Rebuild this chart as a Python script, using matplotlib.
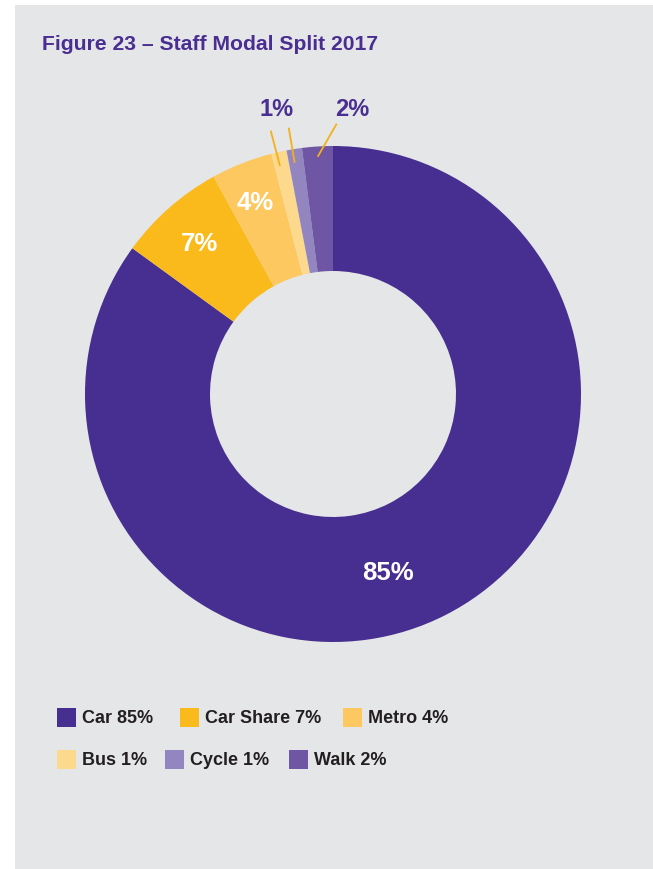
import matplotlib
matplotlib.use("Agg")
import matplotlib.pyplot as plt
from matplotlib.patches import Rectangle

# Staff modal split data
modes = ["Car", "Car Share", "Metro", "Bus", "Cycle", "Walk"]
shares = [85, 7, 4, 1, 1, 2]
colors = ["#472E91", "#FBBA1C", "#FDC85F", "#FDD98E", "#9285C0", "#6E56A4"]

W, H = 653, 870
fig = plt.figure(figsize=(W / 100, H / 100), dpi=100, facecolor="white")
ax = fig.add_axes([0, 0, 1, 1])

def Y(y):
    # pixel row measured from the top -> axis coordinate
    return H - y

purple = "#4A2E91"
font = "Liberation Sans"

# grey panel
ax.add_patch(Rectangle((15, Y(870)), W - 15, 870 - 6, facecolor="#E5E6E8",
                       edgecolor="none", zorder=0))

cx, cy, R, ring = 333, 395, 248, 125
wedges, _ = ax.pie(shares, colors=colors, startangle=90, counterclock=False,
                   center=(cx, Y(cy)), radius=R,
                   wedgeprops=dict(width=ring, edgecolor="none", linewidth=0))
for w in wedges:
    w.set_zorder(2)

ax.set_xlim(0, W)
ax.set_ylim(0, H)
ax.set_aspect("equal")
ax.axis("off")

# title
ax.text(42, Y(45), "Figure 23 \u2013 Staff Modal Split 2017", color=purple,
        fontsize=15.2, fontweight="bold", family=font,
        ha="left", va="center", zorder=3)

# in-ring value labels
inside = {"Car": (388, 573), "Car Share": (199, 244), "Metro": (255, 203)}
for m, (x, y) in inside.items():
    v = shares[modes.index(m)]
    ax.text(x, Y(y), f"{v}%", color="white", fontsize=18.5, fontweight="bold",
            family=font, ha="center", va="center", zorder=4)

# outside labels for the thin slices
ax.text(277, Y(110), f"{shares[modes.index('Bus')]}%", color=purple, fontsize=17,
        fontweight="bold", family=font, ha="center", va="center", zorder=4)
ax.text(352, Y(110), f"{shares[modes.index('Walk')]}%", color=purple, fontsize=17,
        fontweight="bold", family=font, ha="center", va="center", zorder=4)

leader = "#F3B01B"
for (x0, y0), (x1, y1) in [((270.7, 131.7), (280, 167)),
                           ((288.7, 128.7), (294.7, 163.7)),
                           ((336.7, 124.7), (317.7, 157.7))]:
    ax.plot([x0, x1], [Y(y0), Y(y1)], color=leader, lw=1.3, zorder=5,
            solid_capstyle="butt")

# legend
legend_pos = [(57, 709), (180, 709), (343, 709), (57, 751), (165, 751), (289, 751)]
for m, v, c, (x, y) in zip(modes, shares, colors, legend_pos):
    ax.add_patch(Rectangle((x, Y(y + 19)), 19, 19, facecolor=c, edgecolor="none", zorder=3))
    ax.text(x + 25, Y(y + 10), f"{m} {v}%", color="#231F20", fontsize=13,
            fontweight="bold", family=font, ha="left", va="center", zorder=3)

fig.savefig("out.png", dpi=100, facecolor="white")
